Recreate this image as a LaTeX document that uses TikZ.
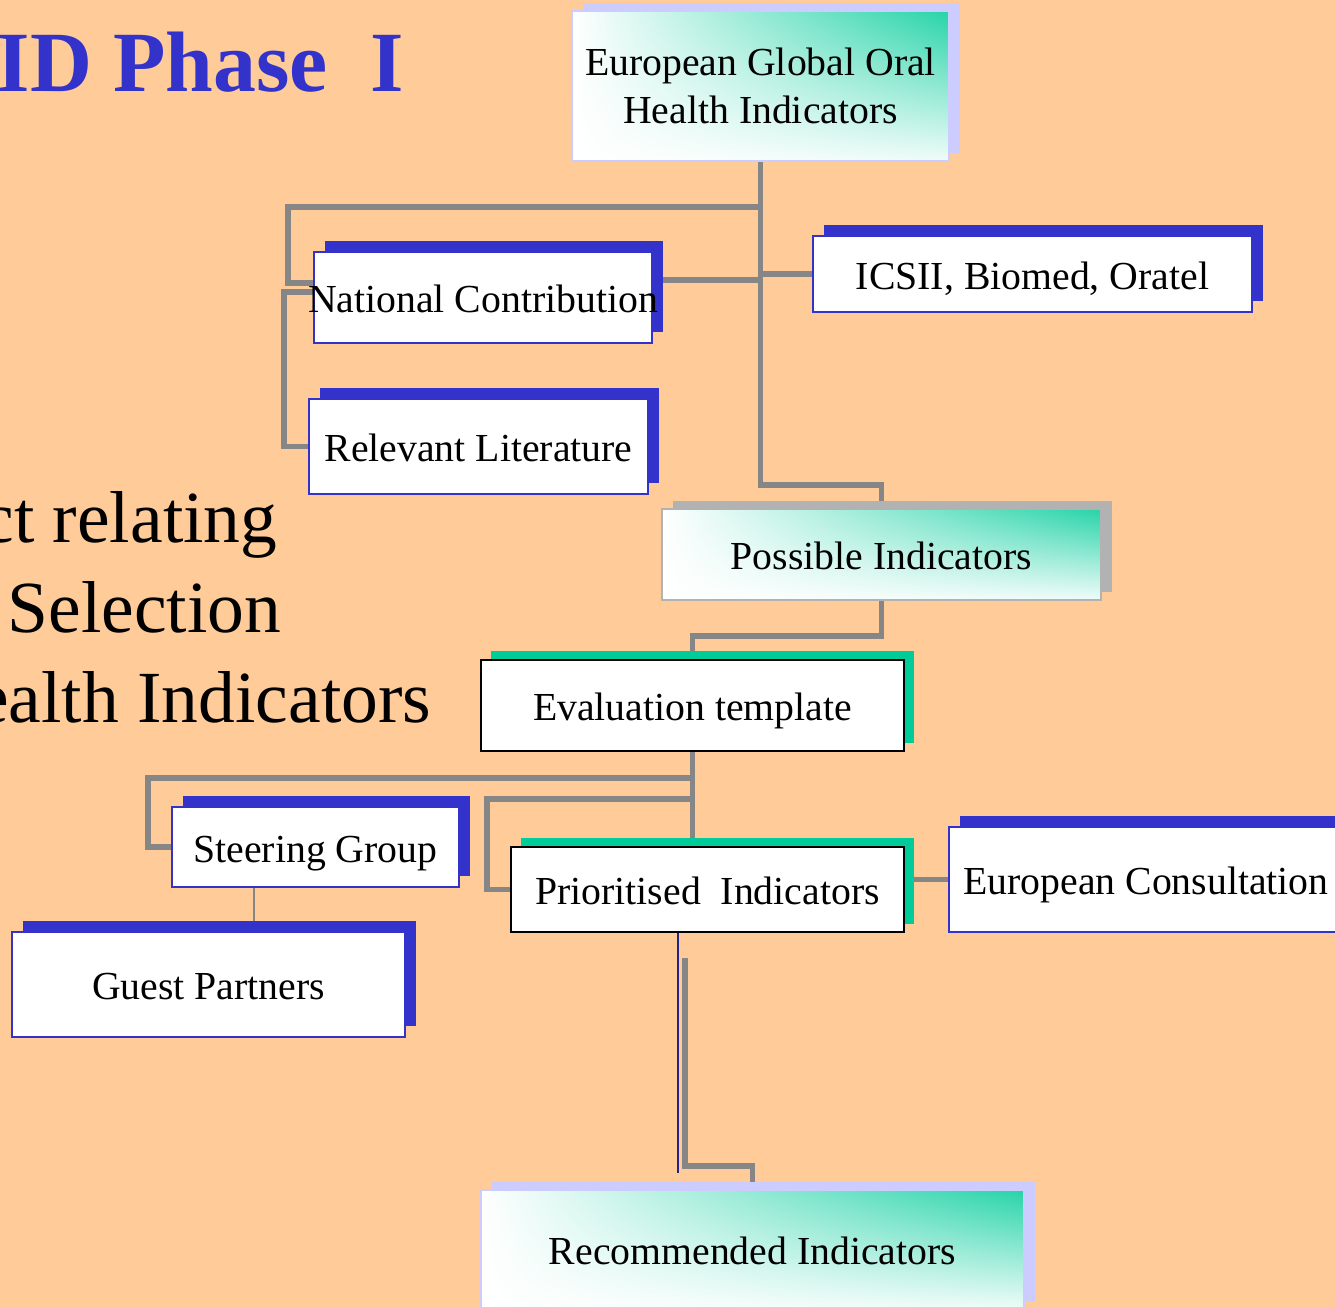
\documentclass[tikz,border=0pt]{standalone}
\usepackage{fontspec}
\setmainfont{Liberation Serif}
\usetikzlibrary{shadows,shadings}
\definecolor{peach}{HTML}{FFCC99}
\definecolor{egblue}{HTML}{3333CC}
\definecolor{eggreen}{HTML}{00CC99}
\definecolor{eglilac}{HTML}{CCCCFF}
\definecolor{egshade}{HTML}{B2B2B2}
\definecolor{eggrey}{HTML}{868686}
\pgfdeclarelayer{bg}\pgfdeclarelayer{lines}
\pgfsetlayers{bg,lines,main}
\begin{document}
\begin{tikzpicture}[x=0.01cm, y=-0.01cm,
		box/.style={rectangle, fill=white, inner sep=0pt, font=\fontsize{11.3}{13.7}\selectfont, align=center},
		oneline/.style={text height=0.31cm, text depth=0pt},
		bluebox/.style={box, oneline, draw=egblue, line width=0.5pt, general shadow={fill=egblue, shadow xshift=0.11cm, shadow yshift=0.11cm}},
		greenbox/.style={box, oneline, draw=black, line width=0.7pt, general shadow={fill=eggreen, shadow xshift=0.1cm, shadow yshift=0.085cm}},
		fadebox/.style={box, draw=#1, line width=0.6pt, upper left=white, lower left=white, lower right=eggreen!6, upper right=eggreen!85, general shadow={fill=#1, shadow xshift=0.11cm, shadow yshift=0.08cm}},
		bigtext/.style={anchor=base east, inner sep=0pt, font=\fontsize{20.9}{25}\selectfont},
		conn/.style={draw=eggrey, line width=1.45pt}]
	\begin{pgfonlayer}{bg}
		\fill[peach] (0,0) rectangle (1335,1307);
	\end{pgfonlayer}
	\useasboundingbox (0,0) rectangle (1335,1307);
	\node[anchor=base west, inner sep=0pt, text=egblue, font=\fontsize{24.4}{28}\selectfont\bfseries] (title) at (-4,92) {ID Phase\ \ I};
	\node[bigtext] (sub1) at (278,543) {ct relating};
	\node[bigtext] (sub2) at (282,633) {Selection};
	\node[bigtext] (sub3) at (432,723) {ealth Indicators};
	\node[fadebox=eglilac, minimum width=3.77cm, minimum height=1.5cm] (egohi) at (760.5,86) {European Global Oral\\Health Indicators};
	\node[bluebox, minimum width=4.39cm, minimum height=0.76cm] (icsii) at (1032.5,274) {ICSII, Biomed, Oratel};
	\node[bluebox, minimum width=3.38cm, minimum height=0.91cm] (natl) at (483,297.5) {\makebox[0pt]{National Contribution}};
	\node[bluebox, minimum width=3.39cm, minimum height=0.95cm] (relit) at (478.5,446.5) {Relevant Literature};
	\node[fadebox=egshade, oneline, minimum width=4.39cm, minimum height=0.91cm] (possible) at (881.5,554.5) {Possible Indicators};
	\node[greenbox, minimum width=4.23cm, minimum height=0.91cm] (evaltmpl) at (692.5,705.5) {Evaluation template};
	\node[bluebox, minimum width=2.87cm, minimum height=0.8cm] (steering) at (315.5,847) {Steering Group};
	\node[greenbox, minimum width=3.93cm, minimum height=0.85cm] (prior) at (707.5,889.5) {Prioritised\ \ Indicators};
	\node[bluebox, minimum width=3.94cm, minimum height=1.05cm] (eurcons) at (1146,879.5) {European Consultation};
	\node[bluebox, minimum width=3.93cm, minimum height=1.05cm] (guest) at (208.5,984.5) {Guest Partners};
	\node[fadebox=eglilac, oneline, minimum width=5.43cm, minimum height=1.19cm] (recomm) at (752.5,1249.5) {Recommended Indicators};
	\coordinate (gapstart) at (685,958);
	\coordinate (gapend) at (678,1173);
	\begin{pgfonlayer}{lines}
		\draw[conn] (egohi.south) |- (881.5,485) -- (possible.north);
		\draw[conn] (natl.west |- 0,283) -| (288,207) -- (egohi.south |- 0,207);
		\draw[conn] (natl.west |- 0,292) -| (284,446.5) -- (relit.west);
		\draw[conn] (natl.east |- 0,280) -- (egohi.south |- 0,280);
		\draw[conn] (icsii.west) -- (egohi.south |- icsii.west);
		\draw[conn] (possible.south) |- (692.5,636) -- (evaltmpl.north);
		\draw[conn] (evaltmpl.south) -- (prior.north -| evaltmpl.south);
		\draw[conn] (evaltmpl.south |- 0,778) -| (148,847) -- (steering.west);
		\draw[conn] (evaltmpl.south |- 0,799) -| (487,889.5) -- (prior.west);
		\draw[eggrey, line width=0.5pt] (steering.south -| 254,0) -- (guest.north -| 254,0);
		\draw[conn] (prior.east |- eurcons.west) -- (eurcons.west);
		\draw[egblue!70!black, line width=0.5pt] (prior.south -| gapend) -- (gapend);
		\draw[conn] (gapstart) |- (752.5,1166) -- (recomm.north);
	\end{pgfonlayer}
\end{tikzpicture}
\end{document}
